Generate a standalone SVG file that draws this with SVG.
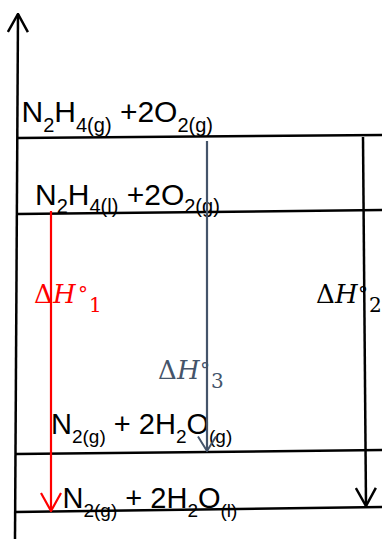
<svg xmlns="http://www.w3.org/2000/svg" width="382" height="539" viewBox="0 0 382 539">
  <style>
    .lvl { stroke: #000; stroke-width: 2.5; fill: none; }
    .chem { font-family: "Liberation Sans", Arial, sans-serif; fill: #000; }
    .dh { font-family: "DejaVu Serif", serif; font-size: 26px; }
    .it { font-style: italic; }
    .deg { font-size: 20px; }
    .ds { font-size: 20px; }
  </style>
  <defs>
    <marker id="hk" viewBox="0 0 20 22" refX="19" refY="11" markerWidth="20" markerHeight="22" markerUnits="userSpaceOnUse" orient="auto">
      <path d="M1,1 L19,11 L1,21" fill="none" stroke="#000" stroke-width="2.5"/>
    </marker>
    <marker id="hr" viewBox="0 0 20 22" refX="19" refY="11" markerWidth="20" markerHeight="22" markerUnits="userSpaceOnUse" orient="auto">
      <path d="M1,1 L19,11 L1,21" fill="none" stroke="#FF0000" stroke-width="2.2"/>
    </marker>
    <marker id="hg" viewBox="0 0 20 22" refX="19" refY="11" markerWidth="18" markerHeight="22" markerUnits="userSpaceOnUse" orient="auto">
      <path d="M3,1 L19,11 L3,21" fill="none" stroke="#44546A" stroke-width="2.2"/>
    </marker>
  </defs>
  <rect width="382" height="539" fill="#fff"/>

  <g id="axis">
    <line x1="15" y1="539" x2="18" y2="14" stroke="#000" stroke-width="2.5" marker-end="url(#hk)"/>
  </g>

  <g id="level-n2h4-g">
    <line class="lvl" x1="17" y1="138" x2="382" y2="135"/>
    <text class="chem" font-size="30" x="21.5" y="122">N<tspan font-size="20" dy="10">2</tspan><tspan dy="-10">H</tspan><tspan font-size="20" dy="10">4(g)</tspan><tspan dy="-10"> +2O</tspan><tspan font-size="20" dy="10">2(g)</tspan></text>
  </g>

  <g id="level-n2h4-l">
    <line class="lvl" x1="17" y1="214" x2="382" y2="210"/>
    <text class="chem" font-size="30" x="35" y="205">N<tspan font-size="20" dy="8">2</tspan><tspan dy="-8">H</tspan><tspan font-size="20" dy="8">4(l)</tspan><tspan dy="-8"> +2O</tspan><tspan font-size="20" dy="8">2(g)</tspan></text>
  </g>

  <g id="level-h2o-g">
    <line class="lvl" x1="16" y1="454" x2="382" y2="450"/>
    <text class="chem" font-size="29" x="51" y="434">N<tspan font-size="19" dy="9">2(g)</tspan><tspan dy="-9"> + 2H</tspan><tspan font-size="19" dy="9">2</tspan><tspan dy="-9">O</tspan><tspan font-size="19" dy="9">(g)</tspan></text>
  </g>

  <g id="level-h2o-l">
    <line class="lvl" x1="15" y1="512" x2="382" y2="507"/>
    <text class="chem" font-size="29" x="62.5" y="508">N<tspan font-size="19" dy="9">2(g)</tspan><tspan dy="-9"> + 2H</tspan><tspan font-size="19" dy="9">2</tspan><tspan dy="-9">O</tspan><tspan font-size="19" dy="9">(l)</tspan></text>
  </g>

  <g id="connectors">
    <line x1="51" y1="211" x2="51" y2="511" stroke="#FF0000" stroke-width="2.2" marker-end="url(#hr)"/>
    <line x1="207" y1="141" x2="207" y2="451" stroke="#44546A" stroke-width="2.2" marker-end="url(#hg)"/>
    <line x1="363" y1="137" x2="366" y2="506" stroke="#000" stroke-width="2.5" marker-end="url(#hk)"/>
  </g>

  <g id="label-dh1">
    <text class="dh" fill="#FF0000" y="303"><tspan x="34">Δ</tspan><tspan class="it" x="53">H</tspan><tspan class="deg" x="78" dy="-2">°</tspan><tspan class="ds" x="89" dy="11">1</tspan></text>
  </g>
  <g id="label-dh2">
    <text class="dh" fill="#000" y="303"><tspan x="316">Δ</tspan><tspan class="it" x="335">H</tspan><tspan class="deg" x="358" dy="-2">°</tspan><tspan class="ds" x="369" dy="11">2</tspan></text>
  </g>
  <g id="label-dh3">
    <text class="dh" fill="#44546A" y="379"><tspan x="158">Δ</tspan><tspan class="it" x="177">H</tspan><tspan class="deg" x="200" dy="-2">°</tspan><tspan class="ds" x="211" dy="11">3</tspan></text>
  </g>
</svg>
